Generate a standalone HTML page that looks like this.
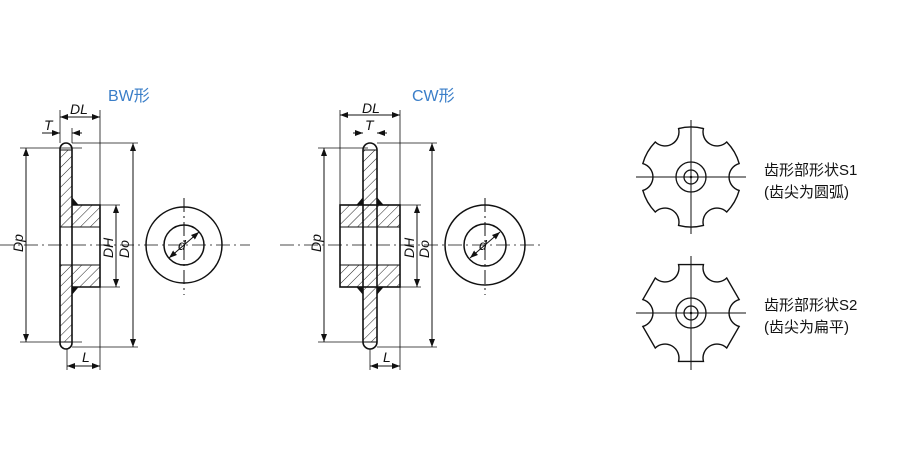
<!DOCTYPE html>
<html><head><meta charset="utf-8"><style>
html,body{margin:0;padding:0;background:#fff;width:900px;height:450px;overflow:hidden;}
svg{display:block;overflow:hidden;}
.t{font-family:"Liberation Sans",sans-serif;font-style:italic;font-size:14px;fill:#111;}
.cn{font-family:"Liberation Sans","Noto Sans CJK SC",sans-serif;font-size:15px;fill:#111;}
.bl{font-family:"Liberation Sans","Noto Sans CJK SC",sans-serif;font-size:16px;fill:#3a7ec8;}
</style></head><body>
<svg width="900" height="450" viewBox="0 0 900 450" xmlns="http://www.w3.org/2000/svg">
<defs>
<pattern id="h" width="7" height="7" patternUnits="userSpaceOnUse" patternTransform="rotate(45)">
<line x1="0" y1="0" x2="0" y2="7" stroke="#222" stroke-width="1"/>
</pattern>
<marker id="a" markerWidth="8" markerHeight="6" refX="8" refY="3" orient="auto-start-reverse" markerUnits="userSpaceOnUse"><path d="M0,0 L8,3 L0,6 Z" fill="#111"/></marker>
<path id="g" d="M 48.16 13.45 A50 50 0 0 1 35.73 34.98 A14 14 0 0 0 12.43 48.43 A50 50 0 0 1 -12.43 48.43 A14 14 0 0 0 -35.73 34.98 A50 50 0 0 1 -48.16 13.45 A14 14 0 0 0 -48.16 -13.45 A50 50 0 0 1 -35.73 -34.98 A14 14 0 0 0 -12.43 -48.43 A50 50 0 0 1 12.43 -48.43 A14 14 0 0 0 35.73 -34.98 A50 50 0 0 1 48.16 -13.45 A14 14 0 0 0 48.16 13.45 Z"/>
<path id="g2" d="M 48.16 13.45 L 35.73 34.98 A14 14 0 0 0 12.43 48.43 L -12.43 48.43 A14 14 0 0 0 -35.73 34.98 L -48.16 13.45 A14 14 0 0 0 -48.16 -13.45 L -35.73 -34.98 A14 14 0 0 0 -12.43 -48.43 L 12.43 -48.43 A14 14 0 0 0 35.73 -34.98 L 48.16 -13.45 A14 14 0 0 0 48.16 13.45 Z"/>
</defs>

<g stroke="#111" fill="none" stroke-width="1">
<!-- BW -->
<line x1="0" y1="245" x2="250" y2="245" stroke-dasharray="14,4,2,4" stroke-width="0.8"/>
<rect x="60" y="150" width="12" height="77" fill="url(#h)"/>
<rect x="60" y="265" width="12" height="77" fill="url(#h)"/>
<rect x="72" y="205" width="28" height="22" fill="url(#h)"/>
<rect x="72" y="265" width="28" height="22" fill="url(#h)"/>
<rect x="60" y="143" width="12" height="206" rx="6" stroke-width="1.6"/>
<line x1="60" y1="150" x2="72" y2="150"/><line x1="60" y1="342" x2="72" y2="342"/>
<path d="M72 205 H100 V287 H72" stroke-width="1.6"/>
<line x1="72" y1="227" x2="100" y2="227"/><line x1="72" y1="265" x2="100" y2="265"/>
<path d="M72 198 L78 205 L72 205Z M72 294 L78 287 L72 287Z" fill="#111"/>
<line x1="20" y1="148" x2="82" y2="148" stroke-width="0.8"/><line x1="20" y1="342" x2="82" y2="342" stroke-width="0.8"/>
<line x1="26" y1="148" x2="26" y2="342" marker-start="url(#a)" marker-end="url(#a)"/>
<line x1="72" y1="143" x2="138" y2="143" stroke-width="0.8"/><line x1="72" y1="347" x2="138" y2="347" stroke-width="0.8"/>
<line x1="133" y1="143" x2="133" y2="347" marker-start="url(#a)" marker-end="url(#a)"/>
<line x1="100" y1="205" x2="120" y2="205" stroke-width="0.8"/><line x1="100" y1="287" x2="120" y2="287" stroke-width="0.8"/>
<line x1="116" y1="205" x2="116" y2="287" marker-start="url(#a)" marker-end="url(#a)"/>
<line x1="60" y1="110" x2="60" y2="143" stroke-width="0.8"/><line x1="100" y1="110" x2="100" y2="205" stroke-width="0.8"/>
<line x1="60" y1="117" x2="100" y2="117" marker-start="url(#a)" marker-end="url(#a)"/>
<line x1="72" y1="128" x2="72" y2="143" stroke-width="0.8"/>
<line x1="42" y1="133" x2="60" y2="133" marker-end="url(#a)"/><line x1="82" y1="133" x2="72" y2="133" marker-end="url(#a)"/>
<line x1="67" y1="349" x2="67" y2="370" stroke-width="0.8"/><line x1="100" y1="287" x2="100" y2="370" stroke-width="0.8"/>
<line x1="67" y1="366" x2="100" y2="366" marker-start="url(#a)" marker-end="url(#a)"/>
<circle cx="184" cy="245" r="38" stroke-width="1.5"/>
<circle cx="184" cy="245" r="20" stroke-width="1.5"/>
<line x1="184" y1="198" x2="184" y2="295" stroke-dasharray="14,4,2,4"/>
<line x1="169" y1="258" x2="199" y2="232" marker-start="url(#a)" marker-end="url(#a)"/>

<!-- CW -->
<line x1="280" y1="245" x2="540" y2="245" stroke-dasharray="14,4,2,4" stroke-width="0.8"/>
<rect x="363" y="150" width="14" height="77" fill="url(#h)"/>
<rect x="363" y="265" width="14" height="77" fill="url(#h)"/>
<rect x="340" y="205" width="23" height="22" fill="url(#h)"/>
<rect x="340" y="265" width="23" height="22" fill="url(#h)"/>
<rect x="377" y="205" width="23" height="22" fill="url(#h)"/>
<rect x="377" y="265" width="23" height="22" fill="url(#h)"/>
<rect x="363" y="143" width="14" height="206" rx="7" stroke-width="1.6"/>
<line x1="363" y1="150" x2="377" y2="150"/><line x1="363" y1="342" x2="377" y2="342"/>
<rect x="340" y="205" width="60" height="82" stroke-width="1.6"/>
<line x1="340" y1="227" x2="400" y2="227"/><line x1="340" y1="265" x2="400" y2="265"/>
<path d="M363 198 L357 205 L363 205Z M363 294 L357 287 L363 287Z M377 198 L383 205 L377 205Z M377 294 L383 287 L377 287Z" fill="#111"/>
<line x1="318" y1="148" x2="368" y2="148" stroke-width="0.8"/><line x1="318" y1="342" x2="368" y2="342" stroke-width="0.8"/>
<line x1="324" y1="148" x2="324" y2="342" marker-start="url(#a)" marker-end="url(#a)"/>
<line x1="377" y1="143" x2="437" y2="143" stroke-width="0.8"/><line x1="377" y1="347" x2="437" y2="347" stroke-width="0.8"/>
<line x1="432" y1="143" x2="432" y2="347" marker-start="url(#a)" marker-end="url(#a)"/>
<line x1="400" y1="205" x2="421" y2="205" stroke-width="0.8"/><line x1="400" y1="287" x2="421" y2="287" stroke-width="0.8"/>
<line x1="417" y1="205" x2="417" y2="287" marker-start="url(#a)" marker-end="url(#a)"/>
<line x1="340" y1="110" x2="340" y2="205" stroke-width="0.8"/><line x1="400" y1="110" x2="400" y2="205" stroke-width="0.8"/>
<line x1="340" y1="115" x2="400" y2="115" marker-start="url(#a)" marker-end="url(#a)"/>
<line x1="353" y1="133" x2="363" y2="133" marker-end="url(#a)"/><line x1="387" y1="133" x2="377" y2="133" marker-end="url(#a)"/>
<line x1="370" y1="349" x2="370" y2="370" stroke-width="0.8"/><line x1="400" y1="287" x2="400" y2="370" stroke-width="0.8"/>
<line x1="370" y1="366" x2="400" y2="366" marker-start="url(#a)" marker-end="url(#a)"/>
<circle cx="485" cy="245" r="40" stroke-width="1.5"/>
<circle cx="485" cy="245" r="21" stroke-width="1.5"/>
<line x1="485" y1="198" x2="485" y2="295" stroke-dasharray="14,4,2,4"/>
<line x1="470" y1="258" x2="500" y2="232" marker-start="url(#a)" marker-end="url(#a)"/>

<!-- gears -->
<g transform="translate(691 177)">
<use href="#g" stroke-width="1.4"/>
<circle r="15" stroke-width="1.3"/><circle r="7" stroke-width="1.3"/><circle r="0.8" fill="#111"/>
<line x1="-55" y1="0" x2="55" y2="0"/><line x1="0" y1="-57" x2="0" y2="57"/>
</g>
<g transform="translate(691 313)">
<use href="#g2" stroke-width="1.4"/>
<circle r="15" stroke-width="1.3"/><circle r="7" stroke-width="1.3"/><circle r="0.8" fill="#111"/>
<line x1="-55" y1="0" x2="55" y2="0"/><line x1="0" y1="-57" x2="0" y2="57"/>
</g>
</g>

<text class="bl" x="108" y="101">BW形</text>
<text class="bl" x="412" y="101">CW形</text>
<text class="t" x="70" y="114">DL</text>
<text class="t" x="44" y="130">T</text>
<text class="t" x="82" y="362">L</text>
<text class="t" transform="translate(23 252) rotate(-90)">Dp</text>
<text class="t" transform="translate(113 258) rotate(-90)">DH</text>
<text class="t" transform="translate(129 258) rotate(-90)">Do</text>
<text class="t" x="178" y="250" font-size="13">d</text>
<text class="t" x="362" y="113">DL</text>
<text class="t" x="365" y="130">T</text>
<text class="t" x="383" y="362">L</text>
<text class="t" transform="translate(321 252) rotate(-90)">Dp</text>
<text class="t" transform="translate(414 258) rotate(-90)">DH</text>
<text class="t" transform="translate(429 258) rotate(-90)">Do</text>
<text class="t" x="479" y="250" font-size="13">d</text>

<text class="cn" x="764" y="175">齿形部形状S1</text>
<text class="cn" x="764" y="197">(齿尖为圆弧)</text>
<text class="cn" x="764" y="310">齿形部形状S2</text>
<text class="cn" x="764" y="332">(齿尖为扁平)</text>
</svg>
</body></html>
